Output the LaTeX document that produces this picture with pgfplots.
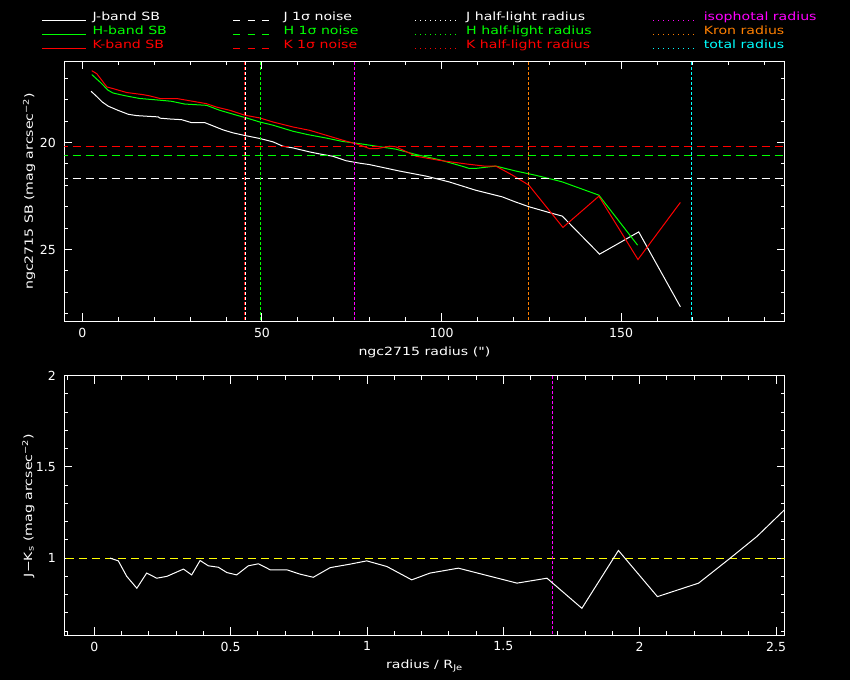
\documentclass[border=0pt]{standalone}
\usepackage{fontspec}
\setmainfont{DejaVu Sans}
\newfontfamily\widefont{DejaVu Sans}[FakeStretch=1.25]
\usepackage{pgfplots}
\pgfplotsset{compat=1.18}
\definecolor{pgorange}{RGB}{255,128,0}
\definecolor{pggreen}{RGB}{0,255,0}
\definecolor{pgred}{RGB}{255,0,0}
\definecolor{pgmag}{RGB}{255,0,255}
\definecolor{pgcyan}{RGB}{0,255,255}
\definecolor{pgyel}{RGB}{255,255,0}
\newcommand\lab{\widefont\fontsize{11.3}{13}\selectfont}
\newcommand\tck{\fontsize{12.5}{14}\selectfont}
\pgfplotsset{pg/.style={
  scale only axis, width=720.2pt,
  axis line style={white, line width=1pt},
  every tick/.style={white, line width=1pt},
  tick align=inside,
  major tick length=8pt, minor tick length=4pt,
  ticklabel style={white, font=\tck},
  /pgf/number format/assume math mode=true,
  label style={white, font=\lab},
  axis background/.style={fill=black},
  every axis plot/.append style={line width=1pt},
}}
\tikzset{vdot/.style={dash pattern=on 3pt off 2pt}, hdash/.style={dash pattern=on 8pt off 5pt}}
\begin{document}
\begin{tikzpicture}[x=1pt,y=1pt]
\fill[black] (0,0) rectangle (850,680);
% ---------- top panel ----------
\begin{axis}[pg, at={(64.3pt,358.7pt)}, anchor=south west, height=260pt,
  xmin=-5.05, xmax=195.5, ymin=16.2, ymax=28.36, y dir=reverse,
  xtick={0,50,100,150}, minor xtick={10,20,30,40,60,70,80,90,110,120,130,140,160,170,180,190},
  ytick={20,25}, minor ytick={17,18,19,21,22,23,24,26,27,28},
  xticklabel style={yshift=-3pt}, yticklabel style={xshift=-5pt},
  xlabel={ngc2715 radius (")}, ylabel={ngc2715 SB (mag arcsec\textsuperscript{−2})},
  xlabel style={at={(axis description cs:0.5,-0.118)}, anchor=center},
  ylabel style={at={(axis description cs:-0.049,0.5)}, anchor=center},
]
\addplot[white] coordinates {(2.4,17.6) (4,17.85) (5.5,18.1) (7.2,18.3) (10,18.5) (12.8,18.68) (15.1,18.74) (18,18.77) (21.1,18.8) (21.6,18.86) (24.5,18.9) (27.6,18.93) (30.4,19.07) (34.1,19.07) (35.9,19.19) (39.2,19.41) (42,19.55) (45.2,19.67) (49.4,19.81) (53.1,19.97) (55.8,20.17) (58.6,20.25) (63.3,20.44) (66.9,20.56) (69.7,20.64) (73.4,20.85) (77,20.96) (79.9,21.03) (88.2,21.33) (95.7,21.57) (102.1,21.84) (109.5,22.23) (116.9,22.54) (120.6,22.78) (124.3,23.0) (129.9,23.27) (133.6,23.44) (144,25.22) (154.9,24.18) (166.5,27.68)};
\addplot[pggreen] coordinates {(2.6,16.82) (4.9,17.17) (7.2,17.56) (8.5,17.68) (10.5,17.76) (12.8,17.84) (16,17.94) (21.6,18.02) (24.8,18.07) (28.5,18.2) (34.6,18.26) (38.2,18.49) (42.9,18.72) (45.7,18.85) (49.4,19.04) (53.1,19.19) (58.6,19.47) (62.8,19.63) (67.9,19.79) (72.5,19.95) (77.1,20.05) (81.8,20.17) (87.3,20.31) (92.9,20.56) (99.3,20.8) (105.8,21.11) (107.7,21.21) (109.5,21.21) (115.1,21.1) (120.6,21.33) (126.2,21.53) (131.8,21.76) (133.6,21.84) (143.8,22.46) (154.6,24.8)};
\addplot[pgred] coordinates {(2.6,16.64) (4,16.78) (6.8,17.4) (8.6,17.48) (12.3,17.66) (16.9,17.76) (18.8,17.82) (21.6,17.94) (26.2,17.94) (29,18.02) (34.5,18.18) (37.3,18.34) (41,18.49) (45.2,18.72) (49.4,18.85) (53.1,19.04) (58.6,19.27) (63.3,19.43) (67.9,19.66) (72.5,19.89) (77,20.1) (79.9,20.28) (82.2,20.28) (85.5,20.17) (87.3,20.2) (92.9,20.64) (99.3,20.83) (106.8,21.0) (111.9,21.1) (115.1,21.1) (119.7,21.52) (124.3,21.99) (133.8,23.97) (143.8,22.51) (154.7,25.47) (166.5,22.8)};
% noise levels
\addplot[white, hdash] coordinates {(-10,21.68) (200,21.68)};
\addplot[pggreen, hdash] coordinates {(-10,20.59) (200,20.59)};
\addplot[pgred, hdash] coordinates {(-10,20.17) (200,20.17)};
% radii
\addplot[pgred, vdot] coordinates {(45.0,16) (45.0,29)};
\addplot[white, vdot] coordinates {(45.3,16) (45.3,29)};
\addplot[pggreen, vdot] coordinates {(49.5,16) (49.5,29)};
\addplot[pgmag, vdot] coordinates {(75.8,16) (75.8,29)};
\addplot[pgorange, vdot] coordinates {(124.1,16) (124.1,29)};
\addplot[pgcyan, vdot] coordinates {(169.7,16) (169.7,29)};
\end{axis}
% ---------- bottom panel ----------
\begin{axis}[pg, at={(64.3pt,44.7pt)}, anchor=south west, height=259.6pt,
  xmin=-0.11, xmax=2.531, ymin=0.577, ymax=2.0,
  xtick={0,0.5,1,1.5,2,2.5}, minor xtick={-0.1,0.1,0.2,0.3,0.4,0.6,0.7,0.8,0.9,1.1,1.2,1.3,1.4,1.6,1.7,1.8,1.9,2.1,2.2,2.3,2.4},
  ytick={1,1.5,2}, minor ytick={0.6,0.7,0.8,0.9,1.1,1.2,1.3,1.4,1.6,1.7,1.8,1.9},
  xticklabel style={yshift=-3pt}, yticklabel style={xshift=-5pt},
  xlabel={radius / R\textsubscript{Je}}, ylabel={J−K\textsubscript{s} (mag arcsec\textsuperscript{−2})},
  xlabel style={at={(axis description cs:0.5,-0.117)}, anchor=center},
  ylabel style={at={(axis description cs:-0.050,0.5)}, anchor=center},
]
\addplot[pgyel, hdash] coordinates {(-0.2,1) (2.6,1)};
\addplot[pgmag, vdot] coordinates {(1.68,0.5) (1.68,2.1)};
\addplot[white] coordinates {(0.058,1.0) (0.088,0.985) (0.119,0.90) (0.156,0.835) (0.192,0.918) (0.229,0.89) (0.266,0.90) (0.327,0.94) (0.357,0.908) (0.388,0.987) (0.418,0.958) (0.455,0.95) (0.486,0.921) (0.522,0.908) (0.565,0.958) (0.602,0.969) (0.645,0.936) (0.706,0.936) (0.755,0.912) (0.803,0.895) (0.865,0.948) (0.938,0.967) (0.999,0.985) (1.073,0.954) (1.164,0.881) (1.231,0.918) (1.335,0.945) (1.55,0.863) (1.66,0.89) (1.788,0.725) (1.922,1.042) (2.065,0.789) (2.216,0.863) (2.332,1.0) (2.43,1.119) (2.531,1.265)};
\end{axis}
% ---------- legend ----------
\begin{scope}[line width=1pt]
\foreach \c/\t/\y in {white/J/659.5, pggreen/H/645.5, pgred/K/631.5}{
  \draw[\c] (42,\y) -- (86,\y);
  \node[anchor=base west, text=\c, font=\lab, inner sep=0] at (92,\y) {\t-band SB};
  \draw[\c, dash pattern=on 7pt off 7.5pt] (233,\y) -- (276,\y);
  \node[anchor=base west, text=\c, font=\lab, inner sep=0] at (283,\y) {\t\ 1σ noise};
  \draw[\c, dash pattern=on 1pt off 4pt] (415,\y) -- (457,\y);
  \node[anchor=base west, text=\c, font=\lab, inner sep=0] at (465.7,\y) {\t\ half-light radius};
}
\draw[pgmag, dash pattern=on 1pt off 4pt] (653,659.5) -- (694,659.5);
\node[anchor=base west, text=pgmag, font=\lab, inner sep=0] at (703.3,659.5) {isophotal radius};
\draw[pgorange, dash pattern=on 1pt off 4pt] (653,645.5) -- (694,645.5);
\node[anchor=base west, text=pgorange, font=\lab, inner sep=0] at (703.3,645.5) {Kron radius};
\draw[pgcyan, dash pattern=on 1pt off 4pt] (653,631.5) -- (694,631.5);
\node[anchor=base west, text=pgcyan, font=\lab, inner sep=0] at (703.3,631.5) {total radius};
\end{scope}
\pgfresetboundingbox
\path (0,0) rectangle (850,680);
\end{tikzpicture}
\end{document}
